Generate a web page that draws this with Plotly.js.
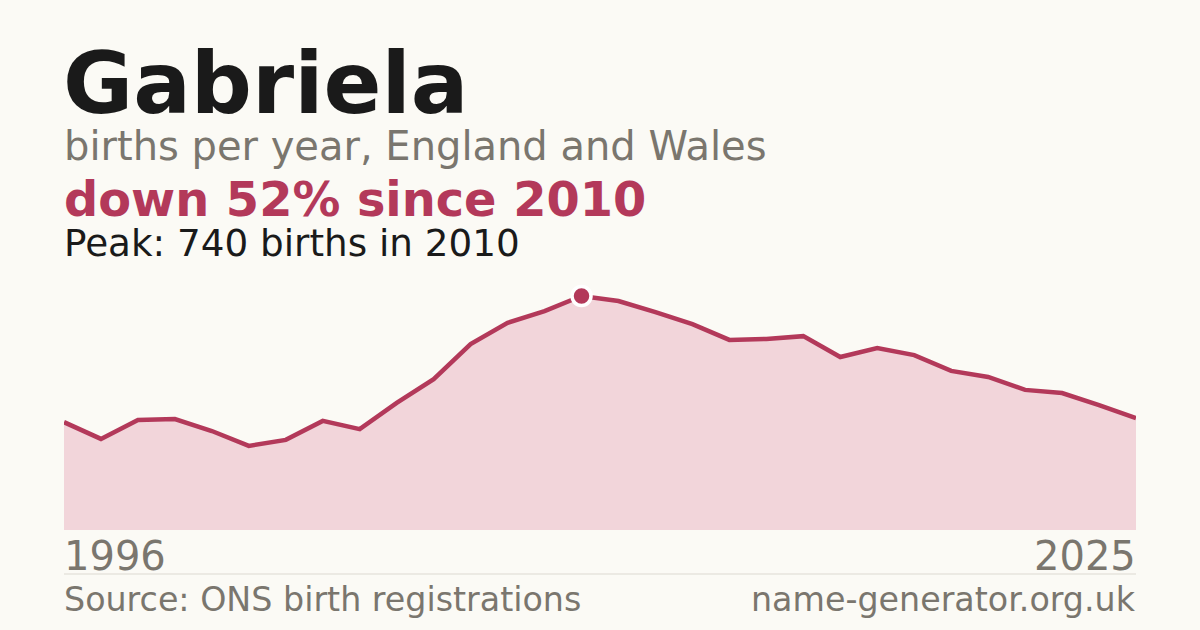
<!DOCTYPE html>
<html>
<head>
<meta charset="utf-8">
<script src="https://cdn.plot.ly/plotly-3.0.1.min.js"></script>
<style>
  html, body { margin: 0; padding: 0; background: #fbfaf5; }
  #chart { width: 1200px; height: 630px; }
</style>
</head>
<body>
<div id="chart"></div>
<script>
const years = [1996, 1997, 1998, 1999, 2000, 2001, 2002, 2003, 2004, 2005,
               2006, 2007, 2008, 2009, 2010, 2011, 2012, 2013, 2014, 2015,
               2016, 2017, 2018, 2019, 2020, 2021, 2022, 2023, 2024, 2025];
const births = [341, 288, 348, 351, 313, 266, 285, 345, 319, 402,
                477, 588, 655, 692, 740, 724, 689, 651, 601, 604,
                613, 547, 575, 553, 503, 484, 443, 433, 395, 354];

const name = 'Gabriela';
const subtitle = 'births per year, England and Wales';
const source = 'Source: ONS birth registrations';
const site = 'name-generator.org.uk';

const W = 1200, H = 630;
const accent = '#b3395a';
const grey = '#7a766e';

const peakIdx = births.indexOf(Math.max(...births));
const peakYear = years[peakIdx];
const peakVal = births[peakIdx];
const last = births[births.length - 1];
const change = Math.round((1 - last / peakVal) * 100);

// pixel -> paper helpers
const px = x => x / W;
const py = y => 1 - y / H;

const data = [
    {
        type: 'scatter',
        mode: 'lines',
        x: years,
        y: births,
        fill: 'tozeroy',
        fillcolor: '#f2d5da',
        line: { color: accent, width: 4.5 },
        hoverinfo: 'x+y'
    },
    {
        type: 'scatter',
        mode: 'markers',
        x: [peakYear],
        y: [peakVal],
        marker: { size: 19, color: accent, line: { color: '#ffffff', width: 3.5 } },
        hoverinfo: 'x+y'
    }
];

function label(text, x, y, size, color, anchor, bold) {
    return {
        xref: 'paper', yref: 'paper',
        x: px(x), y: py(y),
        xanchor: anchor, yanchor: 'middle',
        text: bold ? '<b>' + text + '</b>' : text,
        showarrow: false,
        borderpad: 0,
        font: { family: 'DejaVu Sans', size: size, color: color }
    };
}

const layout = {
    width: W,
    height: H,
    margin: { l: 0, r: 0, t: 0, b: 0 },
    paper_bgcolor: '#fbfaf5',
    plot_bgcolor: 'rgba(0,0,0,0)',
    showlegend: false,
    xaxis: {
        range: [years[0], years[years.length - 1]],
        domain: [px(64), px(1136)],
        showgrid: false, zeroline: false, showticklabels: false, ticks: '',
        fixedrange: true
    },
    yaxis: {
        range: [0, 800],
        domain: [py(530), py(277)],
        showgrid: false, zeroline: false, showticklabels: false, ticks: '',
        fixedrange: true
    },
    shapes: [
        {
            type: 'line', xref: 'paper', yref: 'paper',
            x0: px(64), x1: px(1136), y0: py(574), y1: py(574),
            line: { color: '#dcd9d1', width: 1 }
        }
    ],
    annotations: [
        label(name, 62, 84, 85.5, '#1a1a1a', 'left', true),
        label(subtitle, 63, 146, 40, grey, 'left', false),
        label('down ' + change + '% since ' + peakYear, 63, 199, 47.8, accent, 'left', true),
        label('Peak: ' + peakVal + ' births in ' + peakYear, 63, 243, 37.3, '#1a1a1a', 'left', false),
        label(String(years[0]), 63, 556, 40, grey, 'left', false),
        label(String(years[years.length - 1]), 1137, 556, 40, grey, 'right', false),
        label(source, 63, 599, 33.3, grey, 'left', false),
        label(site, 1137, 599, 33.3, grey, 'right', false)
    ]
};

Plotly.newPlot('chart', data, layout, { displayModeBar: false, staticPlot: true });
</script>
</body>
</html>
